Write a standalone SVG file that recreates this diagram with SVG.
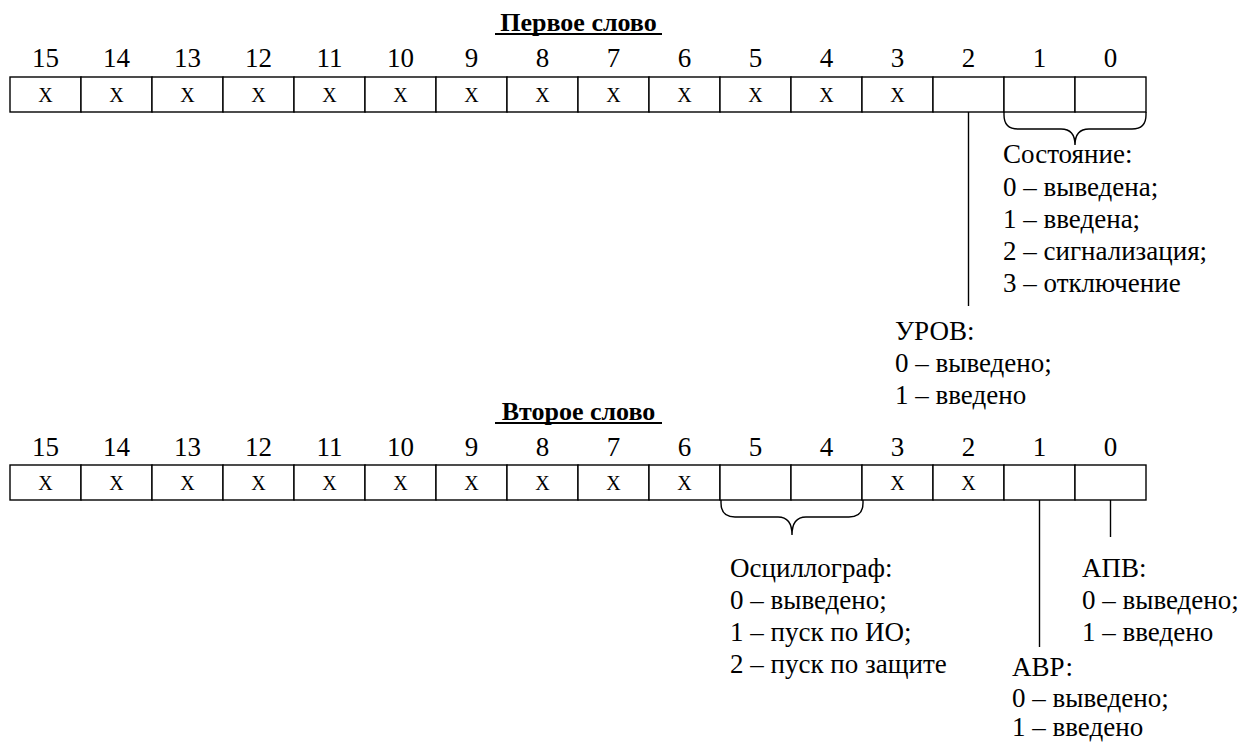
<svg xmlns="http://www.w3.org/2000/svg" width="1246" height="743" viewBox="0 0 1246 743">
<style>
text{font-family:'Liberation Serif','Times New Roman',Times,'DejaVu Serif',serif;fill:#000}
.t{font-size:27px}
.n{font-size:27px;text-anchor:middle}
.x{font-size:20px;text-anchor:middle}
.h{font-size:26px;font-weight:bold;text-anchor:middle}
.c{fill:#fff;stroke:#000;stroke-width:1.4}
.l{fill:none;stroke:#000;stroke-width:1.4}
.u{stroke:#000;stroke-width:2}
</style>
<rect width="1246" height="743" fill="#fff"/>

<g id="title1">
<text class="h" x="578.5" y="31">Первое слово</text>
<line class="u" x1="495" y1="34" x2="662" y2="34"/>
</g>

<g id="word1">
<g class="n">
<text x="45.5" y="66.5">15</text><text x="116.5" y="66.5">14</text><text x="187.5" y="66.5">13</text><text x="258.5" y="66.5">12</text>
<text x="329.5" y="66.5">11</text><text x="400.5" y="66.5">10</text><text x="471.5" y="66.5">9</text><text x="542.5" y="66.5">8</text>
<text x="613.5" y="66.5">7</text><text x="684.5" y="66.5">6</text><text x="755.5" y="66.5">5</text><text x="826.5" y="66.5">4</text>
<text x="897.5" y="66.5">3</text><text x="968.5" y="66.5">2</text><text x="1039.5" y="66.5">1</text><text x="1110.5" y="66.5">0</text>
</g>
<g>
<rect class="c" x="10" y="77" width="71" height="35"/><rect class="c" x="81" y="77" width="71" height="35"/>
<rect class="c" x="152" y="77" width="71" height="35"/><rect class="c" x="223" y="77" width="71" height="35"/>
<rect class="c" x="294" y="77" width="71" height="35"/><rect class="c" x="365" y="77" width="71" height="35"/>
<rect class="c" x="436" y="77" width="71" height="35"/><rect class="c" x="507" y="77" width="71" height="35"/>
<rect class="c" x="578" y="77" width="71" height="35"/><rect class="c" x="649" y="77" width="71" height="35"/>
<rect class="c" x="720" y="77" width="71" height="35"/><rect class="c" x="791" y="77" width="71" height="35"/>
<rect class="c" x="862" y="77" width="71" height="35"/><rect class="c" x="933" y="77" width="71" height="35"/>
<rect class="c" x="1004" y="77" width="71" height="35"/><rect class="c" x="1075" y="77" width="71" height="35"/>
</g>
<g class="x">
<text x="45.5" y="101.5">X</text><text x="116.5" y="101.5">X</text><text x="187.5" y="101.5">X</text><text x="258.5" y="101.5">X</text>
<text x="329.5" y="101.5">X</text><text x="400.5" y="101.5">X</text><text x="471.5" y="101.5">X</text><text x="542.5" y="101.5">X</text>
<text x="613.5" y="101.5">X</text><text x="684.5" y="101.5">X</text><text x="755.5" y="101.5">X</text><text x="826.5" y="101.5">X</text>
<text x="897.5" y="101.5">X</text>
</g>
</g>

<g id="label-state" class="t">
<text x="1003" y="163">Состояние:</text>
<text x="1003" y="196">0 – выведена;</text>
<text x="1003" y="228">1 – введена;</text>
<text x="1003" y="260">2 – сигнализация;</text>
<text x="1003" y="292">3 – отключение</text>
</g>

<g id="label-urov" class="t">
<text x="895" y="340">УРОВ:</text>
<text x="895" y="372">0 – выведено;</text>
<text x="895" y="404">1 – введено</text>
</g>

<g id="title2">
<text class="h" x="578.5" y="420">Второе слово</text>
<line class="u" x1="495" y1="423" x2="662" y2="423"/>
</g>

<g id="word2">
<g class="n">
<text x="45.5" y="455.5">15</text><text x="116.5" y="455.5">14</text><text x="187.5" y="455.5">13</text><text x="258.5" y="455.5">12</text>
<text x="329.5" y="455.5">11</text><text x="400.5" y="455.5">10</text><text x="471.5" y="455.5">9</text><text x="542.5" y="455.5">8</text>
<text x="613.5" y="455.5">7</text><text x="684.5" y="455.5">6</text><text x="755.5" y="455.5">5</text><text x="826.5" y="455.5">4</text>
<text x="897.5" y="455.5">3</text><text x="968.5" y="455.5">2</text><text x="1039.5" y="455.5">1</text><text x="1110.5" y="455.5">0</text>
</g>
<g>
<rect class="c" x="10" y="465" width="71" height="35"/><rect class="c" x="81" y="465" width="71" height="35"/>
<rect class="c" x="152" y="465" width="71" height="35"/><rect class="c" x="223" y="465" width="71" height="35"/>
<rect class="c" x="294" y="465" width="71" height="35"/><rect class="c" x="365" y="465" width="71" height="35"/>
<rect class="c" x="436" y="465" width="71" height="35"/><rect class="c" x="507" y="465" width="71" height="35"/>
<rect class="c" x="578" y="465" width="71" height="35"/><rect class="c" x="649" y="465" width="71" height="35"/>
<rect class="c" x="720" y="465" width="71" height="35"/><rect class="c" x="791" y="465" width="71" height="35"/>
<rect class="c" x="862" y="465" width="71" height="35"/><rect class="c" x="933" y="465" width="71" height="35"/>
<rect class="c" x="1004" y="465" width="71" height="35"/><rect class="c" x="1075" y="465" width="71" height="35"/>
</g>
<g class="x">
<text x="45.5" y="490">X</text><text x="116.5" y="490">X</text><text x="187.5" y="490">X</text><text x="258.5" y="490">X</text>
<text x="329.5" y="490">X</text><text x="400.5" y="490">X</text><text x="471.5" y="490">X</text><text x="542.5" y="490">X</text>
<text x="613.5" y="490">X</text><text x="684.5" y="490">X</text>
<text x="897.5" y="490">X</text><text x="968.5" y="490">X</text>
</g>
</g>

<g id="label-osc" class="t">
<text x="730" y="577">Осциллограф:</text>
<text x="730" y="609">0 – выведено;</text>
<text x="730" y="641">1 – пуск по ИО;</text>
<text x="730" y="673">2 – пуск по защите</text>
</g>

<g id="label-apv" class="t">
<text x="1082" y="577">АПВ:</text>
<text x="1082" y="609">0 – выведено;</text>
<text x="1082" y="641">1 – введено</text>
</g>

<g id="label-avr" class="t">
<text x="1012" y="676">АВР:</text>
<text x="1012" y="707">0 – выведено;</text>
<text x="1012" y="736">1 – введено</text>
</g>

<g id="connectors">
<path class="l" d="M1004,112 L1004,115 Q1004,129 1018,129 L1061,129 Q1075,129 1075,145 Q1075,129 1089,129 L1132,129 Q1146,129 1146,115 L1146,112"/>
<line class="l" x1="968.5" y1="112" x2="968.5" y2="306"/>
<path class="l" d="M721,500 L721,503 Q721,517 735,517 L778,517 Q792,517 792,535 Q792,517 806,517 L849,517 Q863,517 863,503 L863,500"/>
<line class="l" x1="1039.5" y1="500" x2="1039.5" y2="647"/>
<line class="l" x1="1110.5" y1="500" x2="1110.5" y2="537"/>
</g>
</svg>
